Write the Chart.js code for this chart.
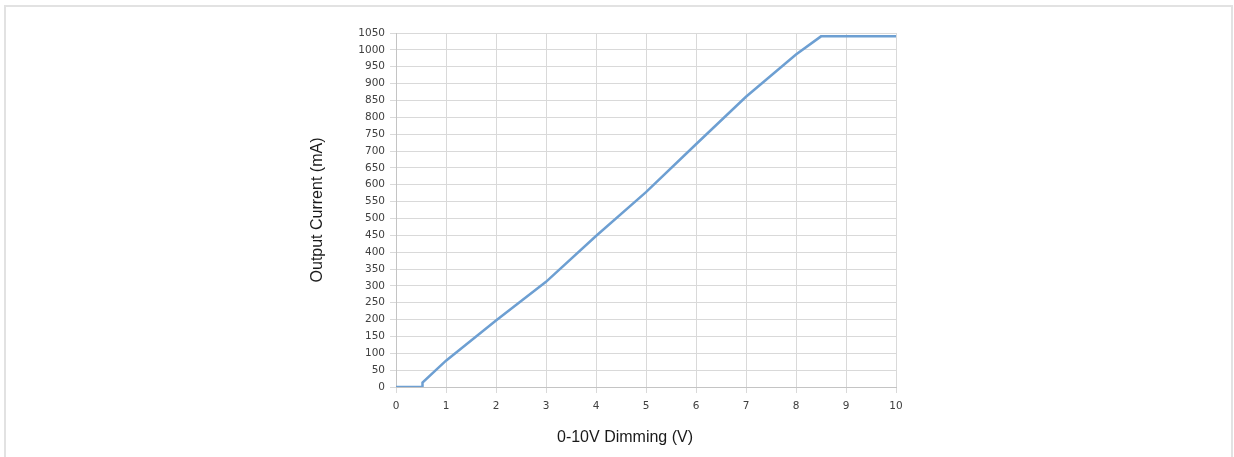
<!DOCTYPE html>
<html>
<head>
<meta charset="utf-8">
<script src="https://cdn.jsdelivr.net/npm/chart.js@4"></script>
<style>
  html, body { margin: 0; padding: 0; background: #ffffff; overflow: hidden; }
  #wrap { position: relative; width: 1234px; height: 457px; }
  #frame { position: absolute; left: 4px; top: 5px; width: 1229px; height: 470px;
           border: 2px solid #e2e2e2; box-sizing: border-box; pointer-events: none; }
  canvas { position: absolute; left: 0; top: 0; }
</style>
</head>
<body>
<div id="wrap">
  <canvas id="c" width="1234" height="457"></canvas>
  <div id="frame"></div>
</div>
<script>
// Data
const dimmingVolts = [0, 0.52, 0.53, 1, 2, 3, 4, 5, 6, 7, 8, 8.5, 10];
const outputCurrent = [0, 0, 13, 78, 197, 312, 448, 578, 720, 861, 986, 1040, 1040];
const xTicks = [0, 1, 2, 3, 4, 5, 6, 7, 8, 9, 10];
const yMax = 1050;
const yStep = 50;
const xTitle = '0-10V Dimming (V)';
const yTitle = 'Output Current (mA)';

const points = dimmingVolts.map((v, i) => ({ x: v, y: outputCurrent[i] }));

const tickFont = { family: 'DejaVu Sans', size: 10.5 };
const titleFont = { family: 'Liberation Sans', size: 16 };

// x-axis title drawn slightly left of the plot centre, as in the reference
const xTitlePlugin = {
  id: 'xTitlePlugin',
  afterDraw(chart) {
    const ctx = chart.ctx;
    const a = chart.chartArea;
    ctx.save();
    ctx.font = '16px "Liberation Sans"';
    ctx.fillStyle = '#1a1a1a';
    ctx.textAlign = 'center';
    ctx.textBaseline = 'middle';
    ctx.fillText(xTitle, (a.left + a.right) / 2 - 21, a.bottom + 51);
    ctx.restore();
  }
};

new Chart(document.getElementById('c'), {
  type: 'scatter',
  data: {
    datasets: [{
      data: points,
      showLine: true,
      borderColor: '#6d9fd2',
      borderWidth: 2.5,
      pointRadius: 0,
      tension: 0,
      fill: false
    }]
  },
  options: {
    responsive: false,
    animation: false,
    devicePixelRatio: 1,
    plugins: { legend: { display: false }, tooltip: { enabled: false } },
    layout: { padding: { left: 308, right: 338, top: 33, bottom: 0 } },
    scales: {
      x: {
        type: 'linear',
        min: xTicks[0],
        max: xTicks[xTicks.length - 1],
        afterBuildTicks: (s) => { s.ticks = xTicks.map(v => ({ value: v })); },
        afterFit: (s) => { s.height = 70; },
        ticks: { font: tickFont, color: '#404040', padding: 7, maxRotation: 0,
                 callback: (v) => String(v) },
        grid: { color: '#d9d9d9', tickLength: 6, lineWidth: 1 },
        border: { color: '#c4c4c4' },
        title: { display: false }
      },
      y: {
        type: 'linear',
        min: 0,
        max: yMax,
        ticks: { stepSize: yStep, font: tickFont, color: '#404040', padding: 5,
                 callback: (v) => String(v) },
        afterFit: (s) => { s.width = 88; },
        grid: { color: '#d9d9d9', tickLength: 6, lineWidth: 1 },
        border: { color: '#c4c4c4' },
        title: { display: true, text: yTitle, font: titleFont, color: '#1a1a1a', padding: { top: 0, bottom: 0 } }
      }
    }
  },
  plugins: [xTitlePlugin]
});
</script>
</body>
</html>
